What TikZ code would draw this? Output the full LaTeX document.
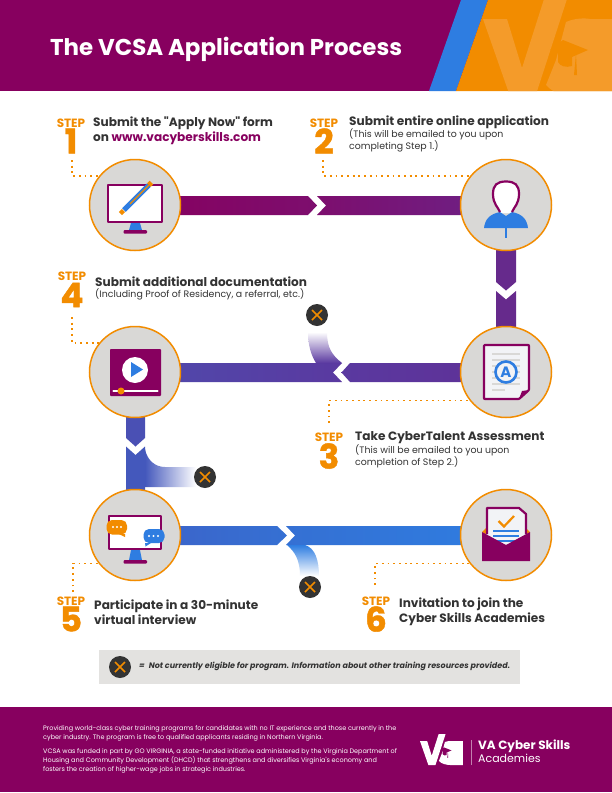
\documentclass[tikz,border=0pt]{standalone}
\usepackage{fontspec}
\setmainfont{Poppins}[Ligatures=TeXOff]
\newfontfamily\numfont{Poppins}[UprightFont=* Bold,FakeBold=1.2]
\usetikzlibrary{backgrounds,calc}
\definecolor{mag}{HTML}{87005F}
\definecolor{org}{HTML}{F28C00}
\definecolor{orgl}{HTML}{F49B2A}
\definecolor{blu}{HTML}{2E7DE1}
\definecolor{ink}{HTML}{333333}
\definecolor{disc}{HTML}{D9D8D6}
\definecolor{legbg}{HTML}{E3E2E0}
\definecolor{paper}{HTML}{F2F3F6}
\definecolor{ba}{HTML}{7D0E6E}
\definecolor{bb}{HTML}{6C2287}
\definecolor{bc}{HTML}{662A8C}
\definecolor{bd}{HTML}{5F3096}
\definecolor{be}{HTML}{5A39A0}
\definecolor{bf}{HTML}{4F4AAC}
\definecolor{bg}{HTML}{4A50B4}
\definecolor{bh}{HTML}{4458BC}
\definecolor{bi}{HTML}{3D62C8}
\definecolor{bj}{HTML}{3570D3}
\newcommand{\fsz}[1]{\fontsize{#1}{#1}\selectfont}
\newcommand{\vcamark}[2]{%
  \fill[#1] (483,19) -- (507,19) -- (522,68) -- (545,-4) -- (568,-4) -- (534.5,99) -- (511,99) -- cycle;
  \fill[#1] (557,22) .. controls (540,27) and (530,38) .. (530,50) .. controls (530,60) and (534,69) .. (540,75) -- (543,66) .. controls (540,60) and (539,55) .. (540,48) -- (549,46) -- cycle;
  \fill[#1] (566,22) .. controls (575,18) and (585,18) .. (590,19) -- (626,19) -- (626,99) -- (590,99) .. controls (570,99) and (555,95) .. (546,85) -- (556,60) -- cycle;
  \fill[#2] (563,40) -- (588,50) -- (572,57) -- (572,66) .. controls (566,68) and (560,66) .. (558,62) -- (558,53) -- (550,50) -- cycle;
  \fill[#2] (576,54) -- (577,75) -- (574,75) -- cycle;
}
\tikzset{
  x=1pt,y=-1pt,
  stepdisc/.style={circle,draw=org,line width=1.5pt,fill=disc,minimum size=91pt,inner sep=0pt},
  xmark/.style={circle,fill=ink,minimum size=22pt,inner sep=0pt,
    path picture={\draw[org,line width=1.5pt] (path picture bounding box.center) ++(-5,-5) -- ++(10,10) ++(-10,0) -- ++(10,-10);}},
  steplab/.style={text=org,font=\fsz{12}\bfseries,inner sep=0pt},
  stepnum/.style={text=org,font=\fsz{34}\numfont,inner sep=0pt},
  head/.style={text=ink,font=\fsz{12.1}\bfseries,inner sep=0pt,anchor=west,align=left},
  subt/.style={text=ink,font=\fsz{9.4},inner sep=0pt,anchor=west,align=left},
  foot/.style={text=white,font=\fontsize{6.47}{8.8}\selectfont,inner sep=0pt,anchor=west,align=left},
  dots/.style={org,line width=1.8pt,dash pattern=on 1.8pt off 3.9pt},
  iconline/.style={mag,line width=2.2pt,line join=round},
}
\begin{document}
\begin{tikzpicture}
\useasboundingbox (0,0) rectangle (612,793);
% header band
\fill[mag] (0,0) rectangle (612,91);
\fill[blu] (461,0) -- (488,0) -- (456,91) -- (429,91) -- cycle;
\fill[org] (488,0) -- (612,0) -- (612,91) -- (456,91) -- cycle;
\begin{scope}
  \clip (488,0) -- (612,0) -- (612,91) -- (456,91) -- cycle;
  \vcamark{orgl}{org}
\end{scope}
\node[text=white,font=\fsz{22.9}\bfseries,inner sep=0pt,anchor=west] (title) at (50,49.5) {The VCSA Application Process};
% footer band
\fill[mag] (0,707) rectangle (612,792);
% discs
\node[stepdisc] (c1) at (135,205) {};
\node[stepdisc] (c2) at (506,205) {};
\node[stepdisc] (c3) at (506,372) {};
\node[stepdisc] (c4) at (135,372) {};
\node[stepdisc] (c5) at (135,535) {};
\node[stepdisc] (c6) at (506,535) {};
% legend
\fill[legbg] (99,650) rectangle (520,684);
% not-eligible marks
\node[xmark] (x1) at (317,315) {};
\node[xmark] (x2) at (205,477) {};
\node[xmark] (x3) at (310,587) {};
\node[xmark] (x4) at (120,667) {};
\node[text=ink,font=\fsz{8}\bfseries\itshape,inner sep=0pt,anchor=west] (legend) at (139,666.5) {=\hspace{4pt}Not currently eligible for program. Information about other training resources provided.};
% step labels
\node[steplab] (s1) at (71,123) {STEP};
\node[stepnum] (n1) at (71,141) {1};
\node[steplab] (s2) at (324,123) {STEP};
\node[stepnum] (n2) at (324,141) {2};
\node[steplab] (s3) at (329,437) {STEP};
\node[stepnum] (n3) at (329,456) {3};
\node[steplab] (s4) at (72,276) {STEP};
\node[stepnum] (n4) at (72,295) {4};
\node[steplab] (s5) at (71,601) {STEP};
\node[stepnum] (n5) at (71,619) {5};
\node[steplab] (s6) at (376,601) {STEP};
\node[stepnum] (n6) at (376,619) {6};
% step text
\node[head] (t1) at (93,130.5) {Submit the "Apply Now" form\\[0.9pt]on {\color{mag}www.vacyberskills.com}};
\node[head] (t2) at (349,122) {Submit entire online application};
\node[subt] (u2) at (349,140.5) {(This will be emailed to you upon\\completing Step 1.)};
\node[head] (t3) at (355,437.5) {Take CyberTalent Assessment};
\node[subt] (u3) at (355,456.5) {(This will be emailed to you upon\\completion of Step 2.)};
\node[head] (t4) at (95,282) {Submit additional documentation};
\node[subt] (u4) at (95,294) {(Including Proof of Residency, a referral, etc.)};
\node[head] (t5) at (94,612.5) {Participate in a 30-minute\\[0.9pt]virtual interview};
\node[head] (t6) at (399,612) {Invitation to join the\\[0.9pt]Cyber Skills Academies};
% dotted leaders
\coordinate (d1) at (72,160);
\coordinate (d2) at (323,160);
\coordinate (d3) at (329,423);
\coordinate (d4) at (72,317);
\coordinate (d5) at (73,592);
\coordinate (d6) at (375,585);
\draw[dots] (d1) |- (c1.141);
\draw[dots] (d2) |- (c2.141);
\draw[dots] (d3) |- (c3.-142);
\draw[dots] (d4) |- (c4.141);
\draw[dots] (d5) |- (c5.-142);
\draw[dots] (d6) |- (c6.-142);
% icon 1: monitor and pen
\fill[white] (108,185) rectangle (162,222);
\draw[iconline] (108,185) rectangle (162,222);
\fill[blu] (131,223) -- (140,223) -- (142,230) -- (129,230) -- cycle;
\fill[mag,rounded corners=1pt] (123.5,230) rectangle (147,233.5);
\draw[blu,line width=5pt] (124,210) -- (149,185);
\draw[org,line width=1.2pt] (130,204) -- (149,185);
\draw[org,line width=5pt] (149,185) -- (151.5,182.5);
\draw[org,line width=4.5pt] (120.5,213.5) -- (123.5,210.5);
% icon 2: person
\fill[white] (500,213) .. controls (498,207) and (493,204) .. (493,194) .. controls (493,185) and (497,181.5) .. (506,181.5) .. controls (515,181.5) and (519,185) .. (519,194) .. controls (519,204) and (514,207) .. (512,213) -- cycle;
\fill[blu] (484,228) .. controls (485,219) and (490,214) .. (500,212) -- (506,216) -- (512,212) .. controls (522,214) and (527,219) .. (528,228) -- cycle;
\draw[mag,line width=2.2pt] (500,212) .. controls (498,207) and (493,204) .. (493,194) .. controls (493,185) and (497,181.5) .. (506,181.5) .. controls (515,181.5) and (519,185) .. (519,194) .. controls (519,204) and (514,207) .. (512,212);
\fill[blu] (505.4,228) rectangle (506.8,238);
% icon 3: document
\fill[paper] (484,345) -- (529,345) -- (529,390) -- (519,399) -- (484,399) -- cycle;
\draw[iconline,rounded corners=0.8pt] (484,345) -- (529,345) -- (529,390) -- (519,399) -- (484,399) -- cycle;
\fill[mag] (529,390) -- (522,391) -- (519,399) -- cycle;
\foreach \ly in {354,360,366,372,378,384} \draw[disc,line width=2.5pt] (492,\ly) -- (520,\ly);
\draw[disc,line width=2.5pt] (492,390) -- (505,390);
\node[circle,draw=blu,line width=2.6pt,fill=paper,minimum size=21pt,inner sep=0pt,text=blu,font=\fsz{15}\bfseries] (gradeA) at (506,372) {A};
% icon 4: video
\fill[mag,rounded corners=0.8pt] (110,349) rectangle (161,396);
\fill[white] (135,370) circle (13);
\fill[blu] (131,362) -- (143,369.5) -- (131,377) -- cycle;
\draw[white,line width=2.2pt,line cap=round] (113.5,391) -- (157.5,391);
\fill[org] (121,391) circle (3.5);
% icon 5: monitor and chat
\fill[white] (109,516) rectangle (161,549);
\draw[iconline] (109,516) rectangle (161,549);
\fill[blu] (131,550) -- (140,550) -- (142,560) -- (129,560) -- cycle;
\fill[mag,rounded corners=1pt] (123.5,560) rectangle (147,563.5);
\fill[org,rounded corners=5.5pt] (106.5,520) rectangle (127,534.5);
\fill[org] (119,534) -- (125,534) -- (125,537) -- cycle;
\foreach \ox in {113,117,121} \fill[white] (\ox,527) circle (1.1);
\fill[blu,rounded corners=5.5pt] (143.5,529) rectangle (164.5,543);
\fill[blu] (145,543) -- (151,543) -- (145.5,546.5) -- cycle;
\foreach \ox in {149,153.5,158} \fill[white] (\ox,536) circle (1.1);
% icon 6: envelope
\fill[org] (482,532) -- (486,528) -- (486,534) -- cycle;
\fill[org] (530,532) -- (526,528) -- (526,534) -- cycle;
\fill[paper] (487,508) -- (519,508) -- (526,514) -- (526,546) -- (487,546) -- cycle;
\draw[iconline] (487,534) -- (487,508) -- (519,508) -- (526,514) -- (526,534);
\draw[org,line width=2.2pt] (498.5,521) -- (504,526.5) -- (514,516);
\foreach \ly in {531,536,541} \draw[blu,line width=1.6pt] (493,\ly) -- (519,\ly);
\fill[mag] (482,532) -- (506,545) -- (530,532) -- (530,561) -- (482,561) -- cycle;
% footer text and logo
\node[foot] (f1) at (43,733.5) {Providing world-class cyber training programs for candidates with no IT experience and those currently in the\\cyber industry. The program is free to qualified applicants residing in Northern Virginia.};
\node[foot] (f2) at (43,761) {VCSA was funded in part by GO VIRGINIA, a state-funded initiative administered by the Virginia Department of\\Housing and Community Development (DHCD) that strengthens and diversifies Virginia's economy and\\fosters the creation of higher-wage jobs in strategic industries.};
\begin{scope}[shift={(420,734.2)},x=0.3pt,y=-0.3pt,shift={(-483,4)}]
  \vcamark{white}{mag}
\end{scope}
\draw[white!50!mag,line width=0.6pt] (471,740) -- (471,765);
\node[text=white,font=\fsz{12}\bfseries,inner sep=0pt,anchor=west] (brand1) at (478,746) {VA Cyber Skills};
\node[text=white,font=\fsz{11},inner sep=0pt,anchor=west] (brand2) at (478,758.5) {Academies};
% connectors behind the discs
\begin{pgfonlayer}{background}
\fill[white] (0,0) rectangle (612,793);
% 1 to 2
\shade[left color=mag,right color=ba] (c1 |- 0,196) -- (308,196) -- (317,205.5) -- (308,215) -- (c1 |- 0,215) -- cycle;
\shade[left color=ba,right color=bb] (317,196) -- (c2 |- 0,196) -- (c2 |- 0,215) -- (317,215) -- (326,205.5) -- cycle;
% 2 to 3
\fill[bc] (496,205) -- (516,205) -- (516,282) -- (506,290.5) -- (496,282) -- cycle;
\fill[bc] (496,291) -- (506,299.5) -- (516,291) -- (516,372) -- (496,372) -- cycle;
% 3 to 4
\shade[left color=be,right color=bd] (c3 |- 0,363) -- (350,363) -- (341.5,372.5) -- (350,382) -- (c3 |- 0,382) -- cycle;
\shade[left color=bf,right color=be] (c4 |- 0,363) -- (342,363) -- (333,372.5) -- (342,382) -- (c4 |- 0,382) -- cycle;
% 4 to 5
\fill[bg] (126,372) -- (145,372) -- (145,438) -- (135.5,446.5) -- (126,438) -- cycle;
\fill[bh] (126,446.5) -- (135.5,455) -- (145,446.5) -- (145,535) -- (126,535) -- cycle;
% 5 to 6
\shade[left color=bi,right color=bj] (c5 |- 0,526) -- (277,526) -- (287,535.5) -- (277,545) -- (c5 |- 0,545) -- cycle;
\shade[left color=bj,right color=blu] (286,526) -- (c6 |- 0,526) -- (c6 |- 0,545) -- (286,545) -- (295,535.5) -- cycle;
% exit stubs, fading towards the marks
\shade[top color=white,bottom color=be] (308,332) .. controls (308,345) and (311,355) .. (316,363) -- (342,363) .. controls (332,355) and (327,348) .. (327,332) -- cycle;
\shade[left color=bh,right color=white] (145,449) .. controls (147,460) and (155,467) .. (165,467) -- (196,467) -- (196,487) -- (145,487) -- cycle;
\shade[top color=blu,bottom color=white] (287,545) .. controls (295,552) and (300,560) .. (300,576) -- (319,576) .. controls (319,560) and (315,548) .. (305,545) -- cycle;
\end{pgfonlayer}
\end{tikzpicture}
\end{document}
